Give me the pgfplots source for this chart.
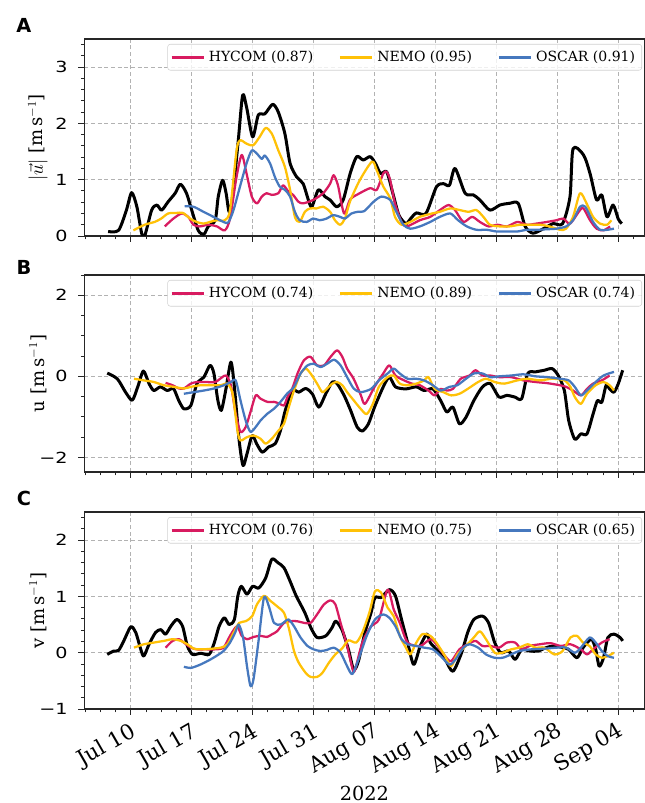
\documentclass[border=0pt]{standalone}
\usepackage{pgfplots}
\pgfplotsset{compat=1.18}
\usepackage{fontspec}
\setmainfont{DejaVu Serif}
\newfontfamily\numfont[FakeStretch=1.25]{DejaVu Sans}
\newfontfamily\panelfont{DejaVu Sans}

\definecolor{hycom}{RGB}{216,27,96}
\definecolor{nemo}{RGB}{255,193,7}
\definecolor{oscar}{RGB}{70,120,190}
\definecolor{gridgray}{RGB}{178,178,178}

% x = days after 10 Jul 2022
\pgfplotsset{
  panel/.style={
    scale only axis, width=420.2pt, height=147.75pt,
    xmin=-5.34, xmax=59.01,
    xtick={0,7,...,56}, xticklabels={},
    minor xtick={-5.25,-3.5,...,58.6},
    tick align=outside, xtick pos=left, ytick pos=left,
    major tick length=4.5pt, minor tick length=2.6pt,
    every tick/.style={black!85, line width=0.7pt},
    xmajorgrids, ymajorgrids,
    major grid style={gridgray, dash pattern=on 3pt off 2pt, line width=0.6pt},
    axis line style={black!85, line width=0.9pt},
    yticklabel style={font=\numfont\fontsize{11.5}{12}\selectfont, xshift=-4.5pt},
    every axis y label/.style={at={(axis description cs:0,0.5)}, xshift=-34.7pt,
      rotate=90, anchor=center, font=\fontsize{13.5}{15}\selectfont},
    clip mode=individual,
    legend columns=3,
    legend style={at={(axis description cs:0.9955,0.9746)}, anchor=north east,
      font=\fontsize{10.5}{12.5}\selectfont, draw=black!18, fill=white,
      fill opacity=0.8, draw opacity=1, text opacity=1, rounded corners=2pt,
      inner xsep=2pt, inner ysep=3pt,
      nodes={inner xsep=3pt},
      /tikz/every odd column/.append style={column sep=0pt},
      /tikz/every even column/.append style={column sep=16pt}},
    legend image code/.code={\draw[line width=2pt] (0pt,0pt) -- (24pt,0pt);},
  },
  obs/.style={black, line width=2.25pt, smooth, tension=0.45, line join=round, forget plot},
  hy/.style={hycom, line width=1.7pt, smooth, tension=0.45, line join=round},
  ne/.style={nemo, line width=1.7pt, smooth, tension=0.45, line join=round},
  os/.style={oscar, line width=1.7pt, smooth, tension=0.45, line join=round},
}

\begin{document}
\begin{tikzpicture}

% ---------------- A: speed
\begin{axis}[panel, at={(63.2pt,425.25pt)}, anchor=south west,
  ymin=0, ymax=3.5, ytick={0,1,2,3}, yticklabels={0,1,2,3},
  minor ytick={0,0.2,...,3.45},
  ylabel={$|\vec{u}|$ [m\,s$^{-1}$]}]
\addplot[obs] coordinates {(-2.6,0.08)(-1.4,0.1)(-0.5,0.46)(0.1,0.77)(0.7,0.52)(1.25,0.05)(1.6,0.0)(2.4,0.46)(3.0,0.55)(3.55,0.46)(4.3,0.61)(5.1,0.76)(5.7,0.92)(6.4,0.76)(7.0,0.46)(7.75,0.1)(8.4,0.03)(8.9,0.17)(9.7,0.28)(10.05,0.7)(10.55,0.99)(10.95,0.76)(11.3,0.43)(11.7,0.7)(12.35,1.7)(12.85,2.5)(13.3,2.29)(14.0,1.76)(14.65,2.15)(15.4,2.17)(16.3,2.34)(16.95,2.2)(17.7,1.82)(18.3,1.29)(19.05,1.05)(19.8,0.93)(20.4,0.64)(20.8,0.52)(21.55,0.82)(22.3,0.7)(22.9,0.64)(23.65,0.52)(24.4,0.64)(25.2,1.11)(25.95,1.41)(26.7,1.35)(27.5,1.41)(28.1,1.29)(28.7,1.11)(29.4,1.14)(30.1,0.76)(30.8,0.37)(31.6,0.22)(32.1,0.3)(32.8,0.41)(33.9,0.4)(35.1,0.87)(35.9,0.93)(36.6,0.9)(37.25,1.2)(38.4,0.76)(39.35,0.73)(40.1,0.64)(41.25,0.46)(42.4,0.55)(43.5,0.58)(44.5,0.58)(45.3,0.17)(46.2,0.05)(47.4,0.13)(48.5,0.22)(49.6,0.22)(50.45,0.7)(50.8,1.55)(52.0,1.44)(52.75,1.11)(53.5,0.64)(54.1,0.73)(54.7,0.34)(55.4,0.55)(56.0,0.3)(56.4,0.22)};
\addplot[hy] coordinates {(3.9,0.17)(4.9,0.31)(5.85,0.4)(6.6,0.34)(7.2,0.2)(7.95,0.17)(8.9,0.2)(9.9,0.17)(10.8,0.1)(11.4,0.31)(12.15,1.05)(12.75,1.44)(13.3,1.11)(13.9,0.7)(14.5,0.58)(15.05,0.7)(15.6,0.76)(16.2,0.73)(16.95,0.76)(17.5,0.9)(18.1,0.79)(18.65,0.73)(19.25,0.61)(19.8,0.58)(20.95,0.64)(22.1,0.76)(22.9,0.93)(23.3,1.08)(23.8,0.9)(24.5,0.4)(25.2,0.65)(26.3,0.76)(27.5,0.85)(28.25,0.82)(29.0,1.11)(29.4,1.14)(29.8,0.99)(30.35,0.58)(31.1,0.25)(31.7,0.17)(33.2,0.28)(34.4,0.34)(35.5,0.46)(36.5,0.55)(37.25,0.46)(38.2,0.25)(39.2,0.34)(40.1,0.25)(41.1,0.17)(42.1,0.2)(43.2,0.17)(44.4,0.25)(45.5,0.2)(46.6,0.22)(47.8,0.25)(48.9,0.28)(49.7,0.31)(50.45,0.22)(51.6,0.46)(52.0,0.49)(52.75,0.28)(53.5,0.13)(54.3,0.1)(55.05,0.17)};
\addplot[ne] coordinates {(0.3,0.1)(1.6,0.2)(2.75,0.25)(3.5,0.31)(4.3,0.4)(5.25,0.41)(6.0,0.41)(6.8,0.31)(7.55,0.25)(8.35,0.22)(9.1,0.25)(9.9,0.28)(10.8,0.28)(11.4,0.46)(12.15,1.52)(12.55,1.7)(13.3,1.64)(14.05,1.61)(14.8,1.76)(15.5,1.92)(16.2,1.82)(16.95,1.52)(17.7,1.23)(18.3,0.82)(18.85,0.34)(19.4,0.25)(20.0,0.43)(20.6,0.49)(21.35,0.49)(22.1,0.52)(22.9,0.43)(23.45,0.28)(24.05,0.2)(24.6,0.31)(25.2,0.62)(26.3,0.99)(27.7,1.32)(28.25,1.17)(29.0,0.88)(29.8,0.67)(30.35,0.34)(31.1,0.2)(32.1,0.25)(33.2,0.34)(34.6,0.4)(35.5,0.43)(36.7,0.49)(37.8,0.46)(38.8,0.43)(39.7,0.46)(40.5,0.34)(41.25,0.2)(42.4,0.17)(43.5,0.17)(44.7,0.2)(45.8,0.2)(47.0,0.2)(48.1,0.17)(49.3,0.11)(50.0,0.13)(50.8,0.34)(51.6,0.76)(52.35,0.58)(53.1,0.34)(53.9,0.22)(54.7,0.2)(55.2,0.28)};
\addplot[os] coordinates {(6.2,0.53)(7.2,0.52)(8.35,0.43)(9.5,0.34)(10.65,0.25)(11.2,0.24)(11.8,0.46)(12.55,0.88)(13.3,1.29)(13.9,1.52)(14.5,1.46)(15.05,1.37)(15.4,1.43)(16.0,1.29)(16.55,1.05)(17.1,0.88)(17.7,0.82)(18.3,0.7)(18.85,0.43)(19.4,0.28)(20.2,0.25)(20.95,0.31)(21.7,0.28)(22.5,0.31)(23.25,0.37)(24.05,0.34)(24.6,0.31)(25.35,0.4)(26.1,0.43)(26.8,0.44)(27.9,0.61)(28.8,0.7)(29.8,0.64)(30.5,0.43)(31.3,0.2)(32.1,0.13)(33.2,0.17)(34.4,0.25)(35.5,0.34)(36.7,0.4)(37.6,0.28)(38.6,0.17)(39.7,0.11)(40.9,0.11)(42.0,0.08)(43.2,0.08)(44.4,0.08)(45.5,0.11)(46.6,0.11)(47.8,0.12)(48.9,0.13)(50.0,0.17)(50.8,0.28)(51.6,0.52)(52.2,0.52)(53.1,0.25)(53.9,0.11)(54.7,0.11)(55.5,0.13)};
\legend{HYCOM (0.87), NEMO (0.95), OSCAR (0.91)}
\node[font=\panelfont\bfseries\fontsize{14.5}{15}\selectfont] at (axis description cs:-0.1076,1.07) {A};
\end{axis}

% ---------------- B: u
\begin{axis}[panel, at={(63.2pt,248.25pt)}, anchor=south west,
  ymin=-2.36, ymax=2.5, ytick={-2,0,2}, yticklabels={−2,0,2},
  minor ytick={-2,-1.5,...,2.45},
  ylabel={u [m\,s$^{-1}$]}]
\addplot[obs] coordinates {(-2.7,0.08)(-1.55,-0.06)(-0.6,-0.39)(0.17,-0.59)(0.8,-0.26)(1.45,0.13)(2.1,-0.18)(2.65,-0.35)(3.4,-0.26)(4.2,-0.35)(4.9,-0.3)(5.5,-0.59)(6.1,-0.8)(6.9,-0.72)(7.6,-0.18)(8.4,-0.02)(9.1,0.27)(9.55,0.07)(10.0,-0.59)(10.4,-0.84)(10.9,-0.35)(11.5,0.35)(11.9,-0.26)(12.45,-1.58)(12.9,-2.2)(13.35,-1.91)(13.95,-1.46)(14.45,-1.66)(15.1,-1.87)(15.85,-1.74)(16.6,-1.66)(17.2,-1.33)(17.75,-0.84)(18.55,-0.35)(19.3,-0.39)(20.1,-0.3)(20.85,-0.43)(21.6,-0.76)(22.4,-0.43)(23.15,-0.14)(23.7,-0.18)(24.5,-0.47)(25.25,-0.84)(26.0,-1.25)(26.6,-1.35)(27.3,-1.17)(28.0,-0.76)(29.0,-0.26)(29.7,-0.02)(30.4,-0.26)(31.6,-0.31)(32.8,-0.26)(33.7,-0.35)(34.7,-0.31)(35.6,-0.6)(36.3,-0.88)(37.0,-0.76)(37.75,-1.17)(38.5,-1.01)(39.4,-0.6)(40.4,-0.26)(41.3,-0.18)(42.3,-0.51)(43.2,-0.47)(44.1,-0.51)(44.9,-0.55)(45.6,0.07)(46.5,0.11)(47.5,0.15)(48.4,0.19)(49.1,0.02)(49.8,-0.35)(50.3,-1.09)(51.0,-1.55)(51.7,-1.42)(52.4,-1.42)(53.1,-0.93)(53.6,-0.6)(54.1,-0.64)(54.6,-0.22)(55.0,-0.31)(55.5,-0.39)(56.0,-0.18)(56.5,0.15)};
\addplot[hy] coordinates {(4.0,-0.16)(4.8,-0.22)(5.55,-0.3)(6.1,-0.3)(6.9,-0.18)(7.6,-0.14)(8.55,-0.14)(9.7,-0.14)(10.45,-0.03)(10.95,0.02)(11.5,-0.22)(12.05,-0.92)(12.6,-1.37)(13.2,-1.25)(13.75,-0.88)(14.35,-0.47)(14.9,-0.55)(15.7,-0.63)(16.45,-0.63)(17.05,-0.67)(17.6,-0.72)(18.0,-0.51)(18.55,-0.3)(19.15,0.07)(19.9,0.4)(20.65,0.48)(21.4,0.27)(22.2,0.27)(22.95,0.48)(23.7,0.64)(24.3,0.48)(24.85,0.19)(25.6,-0.06)(26.4,-0.45)(26.9,-0.68)(28.0,-0.26)(29.0,0.07)(29.7,0.27)(30.4,0.02)(31.4,-0.1)(32.3,-0.18)(33.2,-0.22)(34.2,-0.35)(34.9,-0.47)(35.6,-0.31)(36.3,-0.35)(37.0,-0.31)(37.9,-0.06)(38.9,0.02)(39.6,0.15)(40.4,0.02)(41.3,0.02)(42.3,-0.02)(43.7,-0.02)(45.1,-0.1)(46.5,-0.14)(47.9,-0.17)(49.3,-0.22)(50.0,-0.26)(50.8,-0.35)(51.7,-0.47)(52.4,-0.31)(53.1,-0.18)(54.1,-0.1)(55.0,0.02)};
\addplot[ne] coordinates {(0.37,-0.06)(1.5,-0.1)(2.65,-0.14)(3.8,-0.22)(4.95,-0.26)(6.1,-0.3)(6.9,-0.26)(8.0,-0.22)(9.2,-0.22)(10.35,-0.22)(11.1,-0.18)(11.7,-0.43)(12.25,-1.33)(12.6,-1.58)(13.35,-1.5)(14.1,-1.46)(14.9,-1.54)(15.5,-1.66)(16.2,-1.54)(17.0,-1.33)(17.6,-1.17)(18.15,-0.76)(18.75,-0.35)(19.5,0.07)(20.1,0.19)(20.65,0.07)(21.4,-0.18)(22.0,-0.39)(22.55,-0.3)(23.15,-0.18)(23.7,-0.14)(24.3,-0.22)(24.85,-0.39)(25.6,-0.59)(26.4,-0.8)(27.1,-0.93)(27.8,-0.68)(28.5,-0.26)(29.5,-0.02)(30.2,0.02)(30.9,-0.18)(31.8,-0.22)(32.8,-0.18)(33.7,-0.1)(34.2,-0.02)(34.9,-0.31)(35.9,-0.39)(36.8,-0.47)(37.75,-0.43)(38.7,-0.31)(39.9,-0.14)(40.8,-0.06)(41.8,-0.14)(42.9,-0.18)(44.4,-0.1)(45.6,-0.06)(47.0,-0.1)(48.4,-0.06)(49.8,-0.1)(50.5,-0.26)(51.0,-0.51)(51.7,-0.68)(52.4,-0.43)(53.4,-0.22)(54.3,-0.14)(55.0,-0.22)(55.5,-0.35)};
\addplot[os] coordinates {(6.1,-0.43)(7.25,-0.39)(8.4,-0.35)(9.55,-0.3)(10.7,-0.22)(11.5,-0.14)(12.05,-0.1)(12.6,-0.59)(13.2,-1.09)(13.75,-1.37)(14.35,-1.25)(14.9,-1.09)(15.7,-0.92)(16.45,-0.8)(17.2,-0.63)(17.95,-0.43)(18.75,-0.26)(19.5,0.07)(20.3,0.27)(21.0,0.31)(21.8,0.23)(22.55,0.31)(23.35,0.41)(24.1,0.27)(24.85,-0.02)(25.6,-0.3)(26.4,-0.39)(27.6,-0.31)(28.5,-0.1)(29.5,0.07)(30.2,0.19)(30.9,0.07)(31.8,-0.06)(32.8,-0.06)(33.7,-0.1)(34.7,-0.22)(35.6,-0.35)(36.6,-0.26)(37.5,-0.22)(38.5,-0.06)(39.4,0.07)(40.4,0.07)(41.3,-0.02)(42.3,0)(43.7,0.02)(45.1,0.05)(46.5,0)(47.9,-0.02)(49.3,-0.06)(50.3,-0.1)(51.0,-0.26)(51.7,-0.47)(52.4,-0.35)(53.4,-0.14)(54.3,0.02)(55.5,0.11)};
\legend{HYCOM (0.74), NEMO (0.89), OSCAR (0.74)}
\node[font=\panelfont\bfseries\fontsize{14.5}{15}\selectfont] at (axis description cs:-0.1076,1.04) {B};
\end{axis}

% ---------------- C: v
\begin{axis}[panel, at={(63.2pt,70.5pt)}, anchor=south west,
  ymin=-1, ymax=2.5, ytick={-1,0,1,2}, yticklabels={−1,0,1,2},
  minor ytick={-1,-0.8,...,2.45},
  ylabel={v [m\,s$^{-1}$]},
  xticklabels={Jul 10,Jul 17,Jul 24,Jul 31,Aug 07,Aug 14,Aug 21,Aug 28,Sep 04},
  xticklabel style={rotate=30, anchor=north east, font=\fontsize{16}{17}\selectfont},
  xlabel={2022},
  every axis x label/.style={at={(axis description cs:0.5,0)}, anchor=base, yshift=-68.25pt, font=\fontsize{14.5}{16}\selectfont}]
\addplot[obs] coordinates {(-2.7,-0.03)(-1.95,0.03)(-1.4,0.04)(-0.8,0.21)(0,0.46)(0.57,0.36)(1.15,0.06)(1.5,-0.06)(2.1,0.15)(2.85,0.36)(3.45,0.41)(4.0,0.33)(4.6,0.47)(5.3,0.59)(5.95,0.47)(6.5,0.12)(7.1,-0.03)(8.05,-0.01)(9.0,-0.03)(9.6,0.18)(10.15,0.47)(10.75,0.62)(11.3,0.5)(11.9,0.59)(12.3,1.01)(12.7,1.18)(13.35,1.04)(14.0,1.18)(14.7,1.15)(15.5,1.33)(16.2,1.66)(16.9,1.6)(17.6,1.51)(18.3,1.27)(19.0,1.01)(20.0,0.71)(20.7,0.44)(21.4,0.27)(22.4,0.3)(23.1,0.44)(23.55,0.56)(24.25,0.41)(25.0,0.06)(25.6,-0.3)(26.15,-0.15)(26.9,0.36)(27.6,0.71)(28.05,0.98)(28.75,0.98)(29.7,1.12)(30.4,1.01)(31.1,0.59)(31.8,0.18)(32.5,-0.21)(33.25,0.12)(34.0,0.33)(34.4,0.18)(35.1,0.06)(36.1,-0.12)(37.0,-0.33)(38.0,0)(38.7,0.36)(39.4,0.59)(40.4,0.65)(41.1,0.53)(41.8,0.18)(42.5,0)(43.4,0.03)(44.15,-0.12)(44.9,0.06)(45.8,0.03)(46.8,0.03)(47.7,0.09)(48.65,0.12)(49.6,0.09)(50.3,0.06)(51.25,-0.09)(51.95,0.09)(52.9,0.24)(53.4,0.06)(53.8,-0.24)(54.3,-0.09)(54.8,0.27)(55.5,0.33)(56.2,0.27)(56.5,0.21)};
\addplot[hy] coordinates {(4.0,0.09)(4.8,0.21)(5.55,0.24)(6.1,0.18)(6.9,0.09)(7.6,0.06)(8.55,0.06)(9.7,0.06)(10.65,0.09)(11.4,0.3)(12.2,0.47)(12.75,0.3)(13.35,0.24)(14.1,0.28)(14.9,0.3)(15.65,0.28)(16.25,0.33)(16.8,0.38)(17.6,0.53)(18.35,0.56)(19.1,0.56)(19.9,0.53)(20.65,0.53)(21.4,0.68)(22.2,0.86)(22.95,0.93)(23.5,0.86)(24.1,0.53)(24.85,0.12)(25.4,-0.24)(25.7,-0.33)(26.6,0.18)(27.6,0.47)(28.5,0.59)(29.5,1.12)(30.2,0.77)(30.9,0.53)(31.8,0.18)(33.25,0.12)(34.4,0.24)(35.1,0.15)(36.1,-0.06)(36.8,-0.15)(37.75,0.06)(38.7,0.15)(39.6,0.21)(40.4,0.12)(41.3,0.12)(42.3,0.09)(43.2,0.18)(44.15,0.18)(44.9,0.06)(45.8,0.12)(47.0,0.15)(48.2,0.17)(49.4,0.12)(50.5,0.15)(51.7,0.06)(52.4,-0.03)(53.1,0.06)(54.1,0.18)(55.0,0.24)};
\addplot[ne] coordinates {(0.37,0.09)(1.5,0.15)(2.65,0.18)(3.8,0.21)(4.8,0.24)(5.75,0.21)(6.5,0.15)(7.3,0.07)(8.25,0.06)(9.2,0.07)(10.35,0.09)(11.1,0.15)(11.9,0.38)(12.45,0.53)(13.2,0.56)(13.95,0.65)(14.5,0.86)(15.3,1.01)(16.05,0.92)(17.0,0.8)(17.6,0.71)(18.15,0.44)(18.75,0.03)(19.3,-0.18)(20.1,-0.36)(20.65,-0.43)(21.4,-0.43)(22.0,-0.36)(22.75,-0.18)(23.5,-0.03)(24.3,0.08)(25.0,0.22)(25.9,0.18)(26.6,0.36)(27.4,0.71)(28.05,1.09)(28.75,1.07)(29.5,0.8)(30.2,0.65)(30.9,0.3)(31.6,0.09)(32.1,-0.03)(32.8,0.18)(33.5,0.33)(34.4,0.3)(35.1,0.18)(36.1,-0.06)(36.8,-0.24)(37.5,-0.03)(38.5,0.12)(39.4,0.27)(40.1,0.38)(40.8,0.24)(41.8,0)(42.7,0)(43.7,0.06)(44.6,0.09)(45.6,0.15)(46.5,0.09)(47.5,0.09)(48.65,-0.03)(49.6,0.03)(50.5,0.27)(51.25,0.3)(51.95,0.18)(52.7,0.12)(53.4,-0.03)(54.1,-0.09)(54.8,-0.06)(55.5,0)};
\addplot[os] coordinates {(6.1,-0.25)(6.9,-0.27)(7.85,-0.22)(8.8,-0.15)(9.7,-0.07)(10.65,0.03)(11.4,0.18)(12.0,0.36)(12.4,0.5)(12.9,0.27)(13.35,-0.24)(13.75,-0.59)(14.1,-0.47)(14.7,0.24)(15.3,0.98)(15.85,0.83)(16.45,0.53)(17.2,0.5)(17.75,0.56)(18.15,0.59)(18.75,0.47)(19.5,0.27)(20.3,0.12)(21.0,0.06)(21.8,0.03)(22.55,0.05)(23.3,0.09)(24.1,0)(24.85,-0.24)(25.45,-0.38)(26.15,-0.12)(27.1,0.3)(28.05,0.59)(29.0,0.68)(29.7,0.62)(30.4,0.47)(31.1,0.24)(31.8,0.15)(32.8,0.12)(33.7,0.09)(34.7,0.06)(35.6,-0.06)(36.6,-0.21)(37.3,-0.12)(38.2,0.09)(38.9,0.15)(39.9,0.09)(40.8,-0.03)(41.8,-0.09)(42.7,-0.09)(43.7,-0.03)(44.6,0.03)(46.0,0.06)(47.4,0.07)(48.9,0.09)(50.0,0.09)(51.0,0)(51.7,0.09)(52.7,0.27)(53.4,0.18)(54.1,0.03)(54.8,-0.06)(55.5,-0.09)};
\legend{HYCOM (0.76), NEMO (0.75), OSCAR (0.65)}
\node[font=\panelfont\bfseries\fontsize{14.5}{15}\selectfont] at (axis description cs:-0.1076,1.069) {C};
\end{axis}

\pgfresetboundingbox
\useasboundingbox (0pt,0pt) rectangle (483.75pt,602.25pt);
\end{tikzpicture}
\end{document}
